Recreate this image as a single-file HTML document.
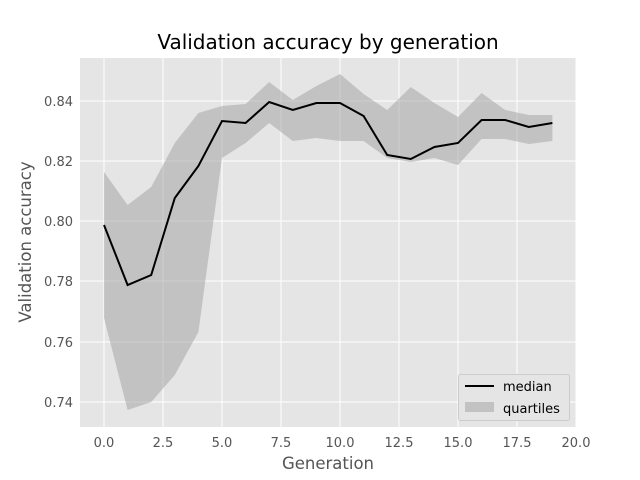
<!DOCTYPE html>
<html><head><meta charset="utf-8"><style>
html,body{margin:0;padding:0;background:#fff;}
svg{display:block;font-family:"DejaVu Sans","Liberation Sans",sans-serif;}
</style></head><body>
<svg width="640" height="480" viewBox="0 0 640 480" xmlns="http://www.w3.org/2000/svg">
<rect x="0" y="0" width="640" height="480" fill="#fff"/>
<rect x="80" y="58" width="496" height="369" fill="#E5E5E5"/>
<g stroke="#fff" stroke-width="1">
<line x1="104" y1="58" x2="104" y2="427"/>
<line x1="163" y1="58" x2="163" y2="427"/>
<line x1="222" y1="58" x2="222" y2="427"/>
<line x1="281" y1="58" x2="281" y2="427"/>
<line x1="340" y1="58" x2="340" y2="427"/>
<line x1="399" y1="58" x2="399" y2="427"/>
<line x1="458" y1="58" x2="458" y2="427"/>
<line x1="517" y1="58" x2="517" y2="427"/>
<line x1="576" y1="58" x2="576" y2="427"/>
<line x1="80" y1="101" x2="576" y2="101"/>
<line x1="80" y1="161" x2="576" y2="161"/>
<line x1="80" y1="221" x2="576" y2="221"/>
<line x1="80" y1="281" x2="576" y2="281"/>
<line x1="80" y1="342" x2="576" y2="342"/>
<line x1="80" y1="402" x2="576" y2="402"/>
</g>
<polygon fill="#a0a0a0" fill-opacity="0.5" points="104,172 127.6,205 151.2,187 174.8,143 198.4,113 222,106 245.6,104 269.2,82 292.8,100 316.4,86 340,74 363.6,94 387.2,110 410.8,87 434.4,103 458,117 481.6,93 505.2,110 528.8,115 552.4,115 552.4,141 528.8,144 505.2,139 481.6,139 458,165 434.4,158 410.8,162 387.2,158 363.6,141 340,141 316.4,138 292.8,141 269.2,123 245.6,143 222,158 198.4,332 174.8,375 151.2,402 127.6,410 104,318"/>
<polyline fill="none" stroke="#000" stroke-width="2" points="104,225 127.6,285 151.2,275 174.8,198 198.4,166 222,121 245.6,123 269.2,102 292.8,110 316.4,103 340,103 363.6,116 387.2,155 410.8,159 434.4,147 458,143 481.6,120 505.2,120 528.8,127 552.4,123"/>
<g fill="#555" font-size="13" text-anchor="middle">
<text x="104" y="447">0.0</text><text x="163" y="447">2.5</text><text x="222" y="447">5.0</text>
<text x="281" y="447">7.5</text><text x="340" y="447">10.0</text><text x="399" y="447">12.5</text>
<text x="458" y="447">15.0</text><text x="517" y="447">17.5</text><text x="576" y="447">20.0</text>
</g>
<g fill="#555" font-size="13" text-anchor="end">
<text x="73" y="106">0.84</text><text x="73" y="166">0.82</text><text x="73" y="226">0.80</text>
<text x="73" y="286">0.78</text><text x="73" y="347">0.76</text><text x="73" y="407">0.74</text>
</g>
<text x="328" y="469" font-size="16.5" fill="#555" text-anchor="middle">Generation</text>
<text transform="translate(31,242) rotate(-90)" font-size="16.5" fill="#555" text-anchor="middle">Validation accuracy</text>
<text x="328" y="49" font-size="20" fill="#000" text-anchor="middle">Validation accuracy by generation</text>
<rect x="458.5" y="374.5" width="111" height="46" fill="#E5E5E5" stroke="#ccc" stroke-width="1" rx="2"/>
<line x1="465" y1="386" x2="494" y2="386" stroke="#000" stroke-width="2"/>
<text x="503" y="391" font-size="13" fill="#000">median</text>
<rect x="465" y="402" width="29" height="10" fill="#a0a0a0" fill-opacity="0.5"/>
<text x="503" y="413" font-size="13" fill="#000">quartiles</text>
</svg>
</body></html>
